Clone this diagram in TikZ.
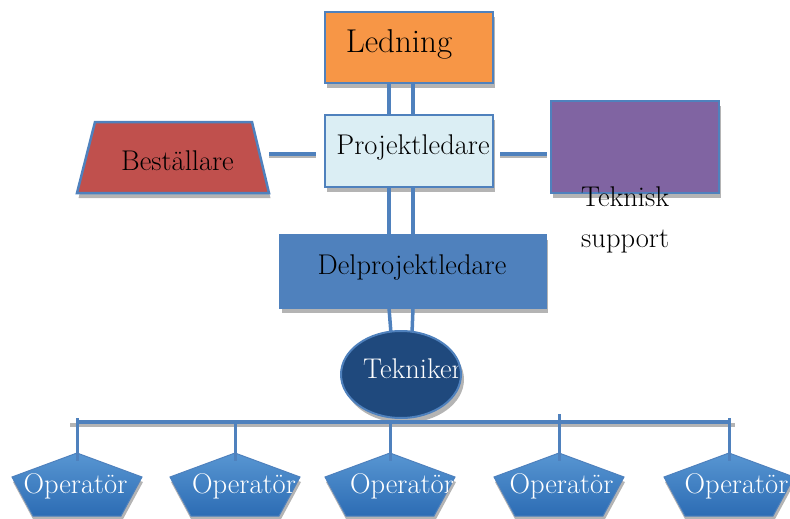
\documentclass[tikz,border=0pt]{standalone}
\usepackage{fontspec}
\usetikzlibrary{shadows,shapes.geometric,calc}

\definecolor{linkblue}{HTML}{4F81BD}
\definecolor{orangefill}{HTML}{F79646}
\definecolor{palefill}{HTML}{DBEEF4}
\definecolor{redfill}{HTML}{C0504D}
\definecolor{purplefill}{HTML}{8064A2}
\definecolor{navyfill}{HTML}{1F497D}
\definecolor{shadowgrey}{HTML}{B4B4B4}
\definecolor{pentop}{RGB}{88,150,210}
\definecolor{penbot}{RGB}{44,108,180}

\tikzset{
  boxshadow/.style={general shadow={fill=shadowgrey, shadow xshift=#1, shadow yshift=-5pt}},
  boxshadow/.default=1.5pt,
  box/.style={draw=linkblue, line width=2.5pt, inner sep=0pt, outer sep=0pt},
  txt/.style={font=\fontsize{28.5}{41}\selectfont, inner sep=0pt, anchor=base},
  link/.style={draw=linkblue, line width=3.5pt},
  linkshade/.style={draw=shadowgrey, line width=3.5pt},
  penta/.style={draw=linkblue, line width=1pt, top color=pentop, bottom color=penbot,
                general shadow={fill=shadowgrey, shadow xshift=1pt, shadow yshift=-5pt}},
}

\begin{document}
\begin{tikzpicture}[x=1pt,y=-1pt]
\useasboundingbox (0,0) rectangle (790,519);

% management and project lead
\node[box, boxshadow, fill=orangefill, minimum width=168pt, minimum height=71pt] (led) at (409,47.5) {};
\node[txt, font=\fontsize{33}{38}\selectfont] (ledT) at (399,53) {Ledning};

\node[box, boxshadow, fill=palefill, minimum width=168pt, minimum height=72pt] (pl) at (409,151) {};
\node[txt] (plT) at (413,154) {Projektledare};

% client (trapezium)
\draw[linkblue, line width=2.5pt, fill=redfill, boxshadow]
  (77,193) -- (95,122) -- (252,122) -- (269,193) -- cycle;
\coordinate (bestE) at (260,154);
\node[txt] (best) at (177.5,170) {Beställare};

% technical support
\node[box, boxshadow, fill=purplefill, minimum width=168pt, minimum height=92pt] (tks) at (635,147) {};

% sub-project lead
\node[box, boxshadow=2pt, fill=linkblue, minimum width=266pt, minimum height=73pt] (dpl) at (413,271.5) {};
\node[txt] (dplT) at (412,274) {Delprojektledare};

% helper coordinates for the connector rails
\coordinate (xa) at (389,0);
\coordinate (xb) at (413,0);
\coordinate (ly) at (0,154);

% double rails
\draw[link] (led.south -| xa) -- (pl.north -| xa);
\draw[link] (led.south -| xb) -- (pl.north -| xb);
\draw[link] (pl.south -| xa) -- (dpl.north -| xa);
\draw[link] (pl.south -| xb) -- (dpl.north -| xb);

% side links
\draw[linkshade] ($(bestE)+(9,2)$) -- ($(pl.west |- ly)+(-9,2)$);
\draw[link] ($(bestE)+(9,0)$) -- ($(pl.west |- ly)+(-9,0)$);
\draw[linkshade] ($(pl.east |- ly)+(7,2)$) -- ($(tks.west |- ly)+(-4,2)$);
\draw[link] ($(pl.east |- ly)+(7,0)$) -- ($(tks.west |- ly)+(-4,0)$);

% technician
\coordinate (tekc) at (401,374.5);
\draw[link] (dpl.south -| xa) -- ($(tekc)+(-10,-41)$);
\draw[link] (dpl.south -| xb) -- ($(tekc)+(11,-41)$);
\node[ellipse, draw=linkblue, line width=2pt, fill=navyfill, inner sep=0pt,
      minimum width=120pt, minimum height=87pt, boxshadow=3pt,
      path picture={\node[txt, white] (tekT) at ([xshift=11.5pt, yshift=-3.5pt]path picture bounding box.center) {Tekniker};}]
      (tek) at (tekc) {};

\node[txt, align=left, anchor=north west] (tksT) at (581,187) {Teknisk\\support};

% operator bus
\coordinate (busL) at (77,422);
\coordinate (busR) at (731,422);
\draw[linkshade] ($(busL)+(-7,3)$) -- ($(busR)+(4,3)$);
\draw[link] (busL) -- (busR);

% operators
\foreach \cx/\dx/\ty [count=\i] in {77/-1.5/418, 235/9/422, 390/12/422, 559/2.5/414, 729/7.5/418}{
  \coordinate (p\i) at (\cx,453);
  \coordinate (t\i) at (\cx,\ty);
  \path[penta] (p\i) -- ++(65,24) -- ++(-21,39) -- ++(-88,0) -- ++(-21,-39) -- cycle;
  \begin{scope}
    \clip (p\i) -- ++(65,24) -- ++(-21,39) -- ++(-88,0) -- ++(-21,-39) -- cycle;
    \node[txt, white] (o\i) at (\cx+\dx,493) {Operatör};
  \end{scope}
  \draw[link, line width=3pt] (t\i) -- ($(p\i)+(0,8)$);
}
\end{tikzpicture}
\end{document}
